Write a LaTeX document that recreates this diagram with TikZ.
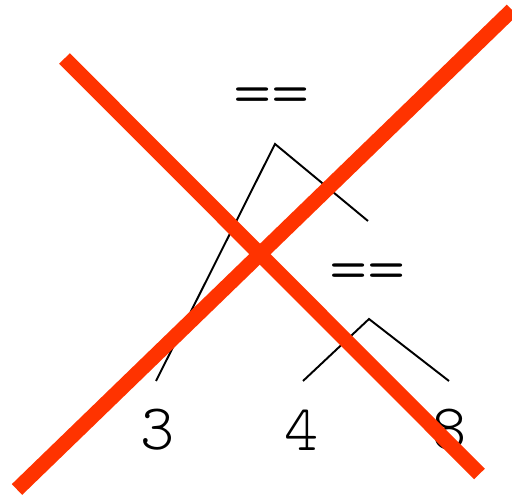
\documentclass[tikz,border=0pt]{standalone}
\usepackage{fontspec}
\usetikzlibrary{calc}
\newfontfamily\lighttt{lmmonolt10-regular}[Extension=.otf]
\definecolor{crossred}{HTML}{FF3300}
\tikzset{
  op/.style={font=\lighttt\fontsize{37}{37}\selectfont, inner sep=0pt, xscale=1.12, transform shape},
  leaf/.style={font=\lighttt\fontsize{37}{37}\selectfont, inner sep=0pt},
  branch/.style={line width=1.1pt},
  cross/.style={crossred, line width=8.5pt}
}
\begin{document}
\begin{tikzpicture}[x=0.02cm, y=-0.02cm]
  \clip (0,0) rectangle (512,497);
  % operators and leaves
  \node[op] (top) at (272,101) {==};
  \node[op] (sub) at (368,277) {==};
  \foreach \v/\x/\n in {3/158/three, 4/302/four, 8/450/eight}
    \node[leaf] (\n) at (\x,430) {\v};
  % branches
  \coordinate (topfork) at (275,144);
  \coordinate (topleft) at (156,381);
  \coordinate (topright) at (368,221);
  \coordinate (subfork) at (369,319);
  \coordinate (subleft) at (303,381);
  \coordinate (subright) at (449,381);
  \draw[branch] (topleft) -- (topfork) -- (topright);
  \draw[branch] (subleft) -- (subfork) -- (subright);
  % the big cross
  \coordinate (xa) at (64.5,58.5);
  \coordinate (xb) at (479.5,474);
  \coordinate (xc) at (17,489.5);
  \coordinate (xd) at (512,10);
  \draw[cross] (xa) -- (xb);
  \draw[cross] (xc) -- (xd);
\end{tikzpicture}
\end{document}
